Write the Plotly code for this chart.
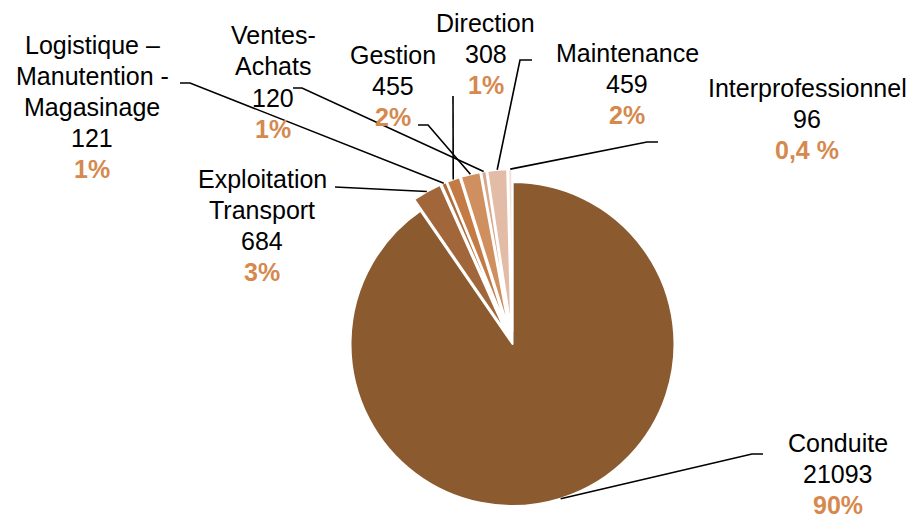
import math
import plotly.graph_objects as go

# ---- data ----
categories = ["Conduite", "Exploitation Transport", "Logistique – Manutention - Magasinage",
              "Direction", "Gestion", "Ventes-Achats", "Maintenance", "Interprofessionnel"]
label_lines = [["Conduite"], ["Exploitation", "Transport"], ["Logistique –", "Manutention -", "Magasinage"],
               ["Direction"], ["Gestion"], ["Ventes-", "Achats"], ["Maintenance"], ["Interprofessionnel"]]
values = [21093, 684, 121, 308, 455, 120, 459, 96]
pct_labels = ["90%", "3%", "1%", "1%", "2%", "1%", "2%", "0,4 %"]

# ---- style ----
colors = ["#8B5A2E", "#A1673A", "#B16C38", "#C47A44", "#D08F5F", "#D9A888", "#E2BCA6", "#F3E1D9"]
pulls = [0, 0.08, 0.08, 0.08, 0.08, 0.08, 0.08, 0.08]
W, H = 916, 519
dom_x = [337.5 / W, 687.5 / W]
dom_y = [0, 349.9 / H]
FONT = "Liberation Sans, Arial, sans-serif"
FS = 25
LINE_GAP = 31
PCT_COLOR = "#D5894E"

# label block centers (px) and leader line elbow points (px)
label_pos = [(838, 474), (262, 225), (92, 107), (486, 54), (393, 86), (273, 82), (627, 84), (807, 119)]
elbows = [
    [(752, 454), (763, 454)],
    [(335, 187)],
    [(190, 83), (180, 83)],
    [(453, 96)],
    [(428, 125), (418, 125)],
    [(302, 88), (293, 88)],
    [(520, 60), (532, 60)],
    [(647, 142), (658, 142)],
]

fig = go.Figure(go.Pie(
    labels=categories, values=values, sort=False, direction="clockwise", rotation=0,
    pull=pulls, textinfo="none", hoverinfo="skip", showlegend=False,
    marker=dict(colors=colors, line=dict(color="white", width=2)),
    domain=dict(x=dom_x, y=dom_y),
))

# pie geometry in pixels (same as plotly's layout rule)
maxpull = max(pulls)
wpx = W * (dom_x[1] - dom_x[0])
hpx = H * (dom_y[1] - dom_y[0])
r = min(wpx, hpx) / 2 / (1 + maxpull)
cx = W * (dom_x[0] + dom_x[1]) / 2
cy = H * (1 - dom_y[0]) - hpx / 2

def px2paper(x, y):
    return x / W, 1 - y / H

total = sum(values)
start = 0.0
shapes = []
annotations = []
for i, v in enumerate(values):
    ang = 360 * v / total
    mid = math.radians(start + ang / 2)
    start += ang
    dx, dy = math.sin(mid), -math.cos(mid)
    ax = cx + (1 + pulls[i]) * r * dx
    ay = cy + (1 + pulls[i]) * r * dy
    pts = [(ax, ay)] + elbows[i]
    path = ""
    for k, (x, y) in enumerate(pts):
        px, py = px2paper(x, y)
        path += ("M" if k == 0 else " L") + f"{px:.5f},{py:.5f}"
    shapes.append(dict(type="path", xref="paper", yref="paper", path=path,
                       line=dict(color="black", width=1.6)))

    lines = [(t, False) for t in label_lines[i]] + [(str(values[i]), False), (pct_labels[i], True)]
    n = len(lines)
    bx, by = label_pos[i]
    for j, (t, is_pct) in enumerate(lines):
        yy = by + (j - (n - 1) / 2) * LINE_GAP
        lx, ly = px2paper(bx, yy)
        annotations.append(dict(
            x=lx, y=ly, xref="paper", yref="paper",
            text=f"<b>{t}</b>" if is_pct else t,
            showarrow=False, xanchor="center", yanchor="middle",
            font=dict(family=FONT, size=FS, color=PCT_COLOR if is_pct else "black")))

fig.update_layout(
    width=W, height=H, margin=dict(l=0, r=0, t=0, b=0),
    paper_bgcolor="white", plot_bgcolor="white",
    shapes=shapes, annotations=annotations,
)
fig.write_html("out.html", config={"displayModeBar": False},
               post_script="document.body.style.margin='0';document.body.style.overflow='hidden';")
